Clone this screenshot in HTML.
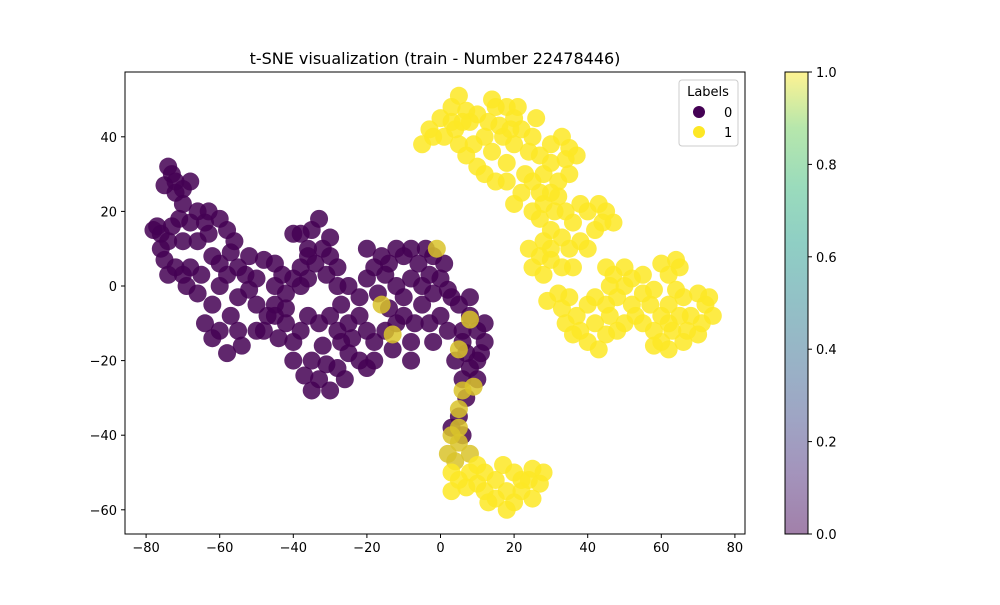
<!DOCTYPE html>
<html><head><meta charset="utf-8"><style>
body{margin:0;background:#fff;}
svg text{font-family:"DejaVu Sans","Liberation Sans",sans-serif;}
</style></head><body>
<svg id="chart" width="1000" height="600" xmlns="http://www.w3.org/2000/svg">
<defs>
<linearGradient id="vir" x1="0" y1="1" x2="0" y2="0">
<stop offset="0" stop-color="#440154"/><stop offset="0.13" stop-color="#482878"/><stop offset="0.25" stop-color="#3e4a89"/><stop offset="0.38" stop-color="#31688e"/><stop offset="0.5" stop-color="#26828e"/><stop offset="0.63" stop-color="#1f9e89"/><stop offset="0.75" stop-color="#35b779"/><stop offset="0.88" stop-color="#6ece58"/><stop offset="1" stop-color="#fde725"/>
</linearGradient>
<clipPath id="pc"><rect x="125" y="72" width="620" height="462"/></clipPath>
</defs>
<text x="435" y="64" text-anchor="middle" font-size="16">t-SNE visualization (train - Number 22478446)</text>
<g id="points" clip-path="url(#pc)"></g>
<rect x="125" y="72" width="620" height="462" fill="none" stroke="#000" stroke-width="1"/>
<g id="axes"></g>
<g>
<rect x="679" y="80" width="59" height="66" rx="3" fill="#fff" fill-opacity="0.8" stroke="#ccc"/>
<text x="708" y="96" text-anchor="middle" font-size="13">Labels</text>
<g><circle cx="699" cy="112" r="6" fill="#440154"/><text x="724" y="117" font-size="13">0</text></g>
<g><circle cx="699" cy="132" r="6" fill="#fde725"/><text x="724" y="137" font-size="13">1</text></g>
</g>
<g>
<rect x="785" y="72" width="23" height="462" fill="url(#vir)" opacity="0.5"/>
<rect x="785" y="72" width="23" height="462" fill="none" stroke="#000"/>
<g id="cbticks"></g>
</g>
</svg>
<script>
const purple = [[-73,30],[-75,27],[-72,25],[-70,22],[-68,28],[-74,32],[-71,18],[-72,28],[-70,26],
[-78,15],[-76,14],[-73,16],[-68,17],[-66,20],[-63,20],[-60,18],[-58,15],[-63,14],
[-76,10],[-75,7],[-72,5],[-70,3],[-68,5],[-65,3],[-62,8],[-60,6],[-57,9],[-55,5],[-52,8],[-48,7],[-45,6],[-43,3],
[-60,0],[-62,-5],[-64,-10],[-60,-12],[-57,-8],[-55,-12],[-58,-18],[-50,-5],[-47,-8],[-45,-5],[-52,-1],[-55,-3],
[-45,0],[-42,-2],[-40,2],[-38,5],[-36,8],[-34,6],[-32,10],[-30,8],[-28,5],[-35,15],[-33,18],[-38,14],[-40,14],[-30,13],
[-42,-10],[-40,-15],[-38,-12],[-36,-8],[-33,-10],[-30,-8],[-28,-12],[-25,-10],[-22,-8],[-20,-12],[-18,-15],[-15,-12],
[-35,-20],[-33,-25],[-30,-28],[-35,-28],[-28,-22],[-25,-18],[-22,-20],[-20,-22],[-18,-20],
[-25,0],[-22,-3],[-20,2],[-18,5],[-15,3],[-12,0],[-10,-3],[-8,2],[-5,0],[-3,3],[-6,6],[-10,8],[-12,10],[-16,8],[-20,10],
[-5,-5],[-3,-10],[0,-8],[3,-3],[5,-5],[8,-8],[10,-12],[12,-15],[2,-12],[-2,-15],[-8,-15],[-12,-10],[-13,-17],
[-2,8],[1,6],[0,2],[-4,10],
[6,-15],[7,-18],[8,-22],[6,-25],[10,-25],[7,-30],[5,-35],[3,-38],[6,-40],[10,-20],[4,-20],
[-77,16],[-74,12],[-70,12],[-66,12],[-64,17],[-56,12],[-53,3],[-50,2],[-48,-12],[-44,-14],[-42,-6],[-38,0],[-36,2],[-31,3],[-27,-5],[-24,-14],[-17,-2],[-14,-6],[-10,-8],[-7,-10],[-8,-20],[-27,-15],[-32,-16],[-37,-24],[-31,-21],[-26,-25],[-40,-20],[-45,-8],[-50,-12],[-54,-16],[-62,-14],[-66,-2],[-69,0],[-74,3],[-58,3],[-36,10],[-28,0],[-14,6],[-8,10],[-2,-2],[2,-1],[8,-3],[6,-12],[11,-18],[12,-10]];
const yellow = [[5,-33],[3,-40],[2,-45],[5,-42],[4,-47],[8,-45],[6,-28],[9,-27],[5,-38],[-1,10],[-16,-5],[-13,-13],[8,-9],[5,-17],
[3,-50],[5,-52],[8,-50],[10,-53],[12,-55],[15,-52],[15,-57],[18,-55],[20,-58],[22,-55],[24,-52],[25,-49],[28,-50],[25,-57],[20,-50],[17,-48],[10,-48],
[-5,38],[-3,42],[0,45],[3,48],[5,51],[7,47],[4,42],[1,40],[8,44],[10,46],[13,44],[15,48],[18,48],[20,45],[17,40],[14,36],[10,32],[7,35],[5,38],[12,30],[15,28],[18,33],[20,38],[22,42],[25,40],[27,35],[30,38],[33,40],[35,37],[37,35],[28,30],[25,28],[22,25],[20,22],[25,20],[28,22],[30,25],[32,28],[35,30],[34,20],[36,17],[40,20],[43,22],[45,20],[47,17],[42,15],[38,12],[35,10],[33,13],[30,15],[28,12],[27,8],[25,5],[28,3],[30,7],[33,5],[32,-2],[35,-3],[37,-8],[34,-10],[38,-12],[42,-10],[40,-5],[45,-5],[48,-3],[50,0],[47,3],[45,5],[50,5],[52,2],[55,-2],[53,-8],[50,-10],[45,-13],[43,-17],[40,-15],[48,-12],[55,-10],[58,-12],[60,-8],[62,-5],[65,-8],[63,-12],[60,-15],[62,-17],[66,-15],[70,-13],[68,-8],[72,-5],[74,-8],[70,-2],[66,-3],[60,6],[62,3],[65,5],[57,-5],
[-2,40],[3,44],[9,38],[16,43],[21,48],[24,36],[26,45],[30,33],[23,30],[18,28],[27,25],[31,20],[38,22],[44,17],[40,10],[36,5],[30,10],[24,10],[29,-4],[33,-6],[36,-13],[42,-3],[46,-8],[52,-5],[55,3],[58,-1],[62,-10],[64,-1],[67,-12],[71,-10],[73,-3],[58,-16],[64,7],[14,50],[6,44],[12,40],[19,42],[34,34],[27,18],[32,24],[46,0],[3,-55],[7,-54],[13,-58],[18,-60],[22,-52],[27,-53],[12,-50]];
const xTicks = [-80,-60,-40,-20,0,20,40,60,80];
const yTicks = [-60,-40,-20,0,20,40];
const cbTicks = [0.0,0.2,0.4,0.6,0.8,1.0];

const NS='http://www.w3.org/2000/svg';
const sx = v => 440.5 + v*3.68;
const sy = v => 286 - v*3.73;
const cy = v => 534 - v*462;
const pts = document.getElementById('points');
function dot(p, col){
  const c=document.createElementNS(NS,'circle');
  c.setAttribute('cx',sx(p[0]));c.setAttribute('cy',sy(p[1]));c.setAttribute('r',9);
  c.setAttribute('fill',col);c.setAttribute('fill-opacity','0.85');
  
  
  pts.appendChild(c);
}
purple.forEach(p=>dot(p,'#440154'));
yellow.slice(0,14).forEach(p=>dot(p,'#d9c32a'));
yellow.slice(14).forEach(p=>dot(p,'#fde725'));
const ax=document.getElementById('axes');
function txt(x,y,s,anchor){const t=document.createElementNS(NS,'text');t.setAttribute('x',x);t.setAttribute('y',y);t.setAttribute('font-size','13');t.setAttribute('text-anchor',anchor);t.textContent=s;return t;}
function ln(x1,y1,x2,y2){const l=document.createElementNS(NS,'line');l.setAttribute('x1',x1);l.setAttribute('y1',y1);l.setAttribute('x2',x2);l.setAttribute('y2',y2);l.setAttribute('stroke','#000');return l;}
xTicks.forEach(v=>{const g=document.createElementNS(NS,'g');


g.appendChild(ln(sx(v),534,sx(v),538));g.appendChild(txt(sx(v),552,String(v).replace('-','−'),'middle'));ax.appendChild(g);});
yTicks.forEach(v=>{const g=document.createElementNS(NS,'g');


g.appendChild(ln(121,sy(v),125,sy(v)));g.appendChild(txt(117,sy(v)+5,String(v).replace('-','−'),'end'));ax.appendChild(g);});
const cb=document.getElementById('cbticks');
cbTicks.forEach(v=>{const g=document.createElementNS(NS,'g');


g.appendChild(ln(808,cy(v),812,cy(v)));g.appendChild(txt(816,cy(v)+5,v.toFixed(1),'start'));cb.appendChild(g);});
</script>
</body></html>
